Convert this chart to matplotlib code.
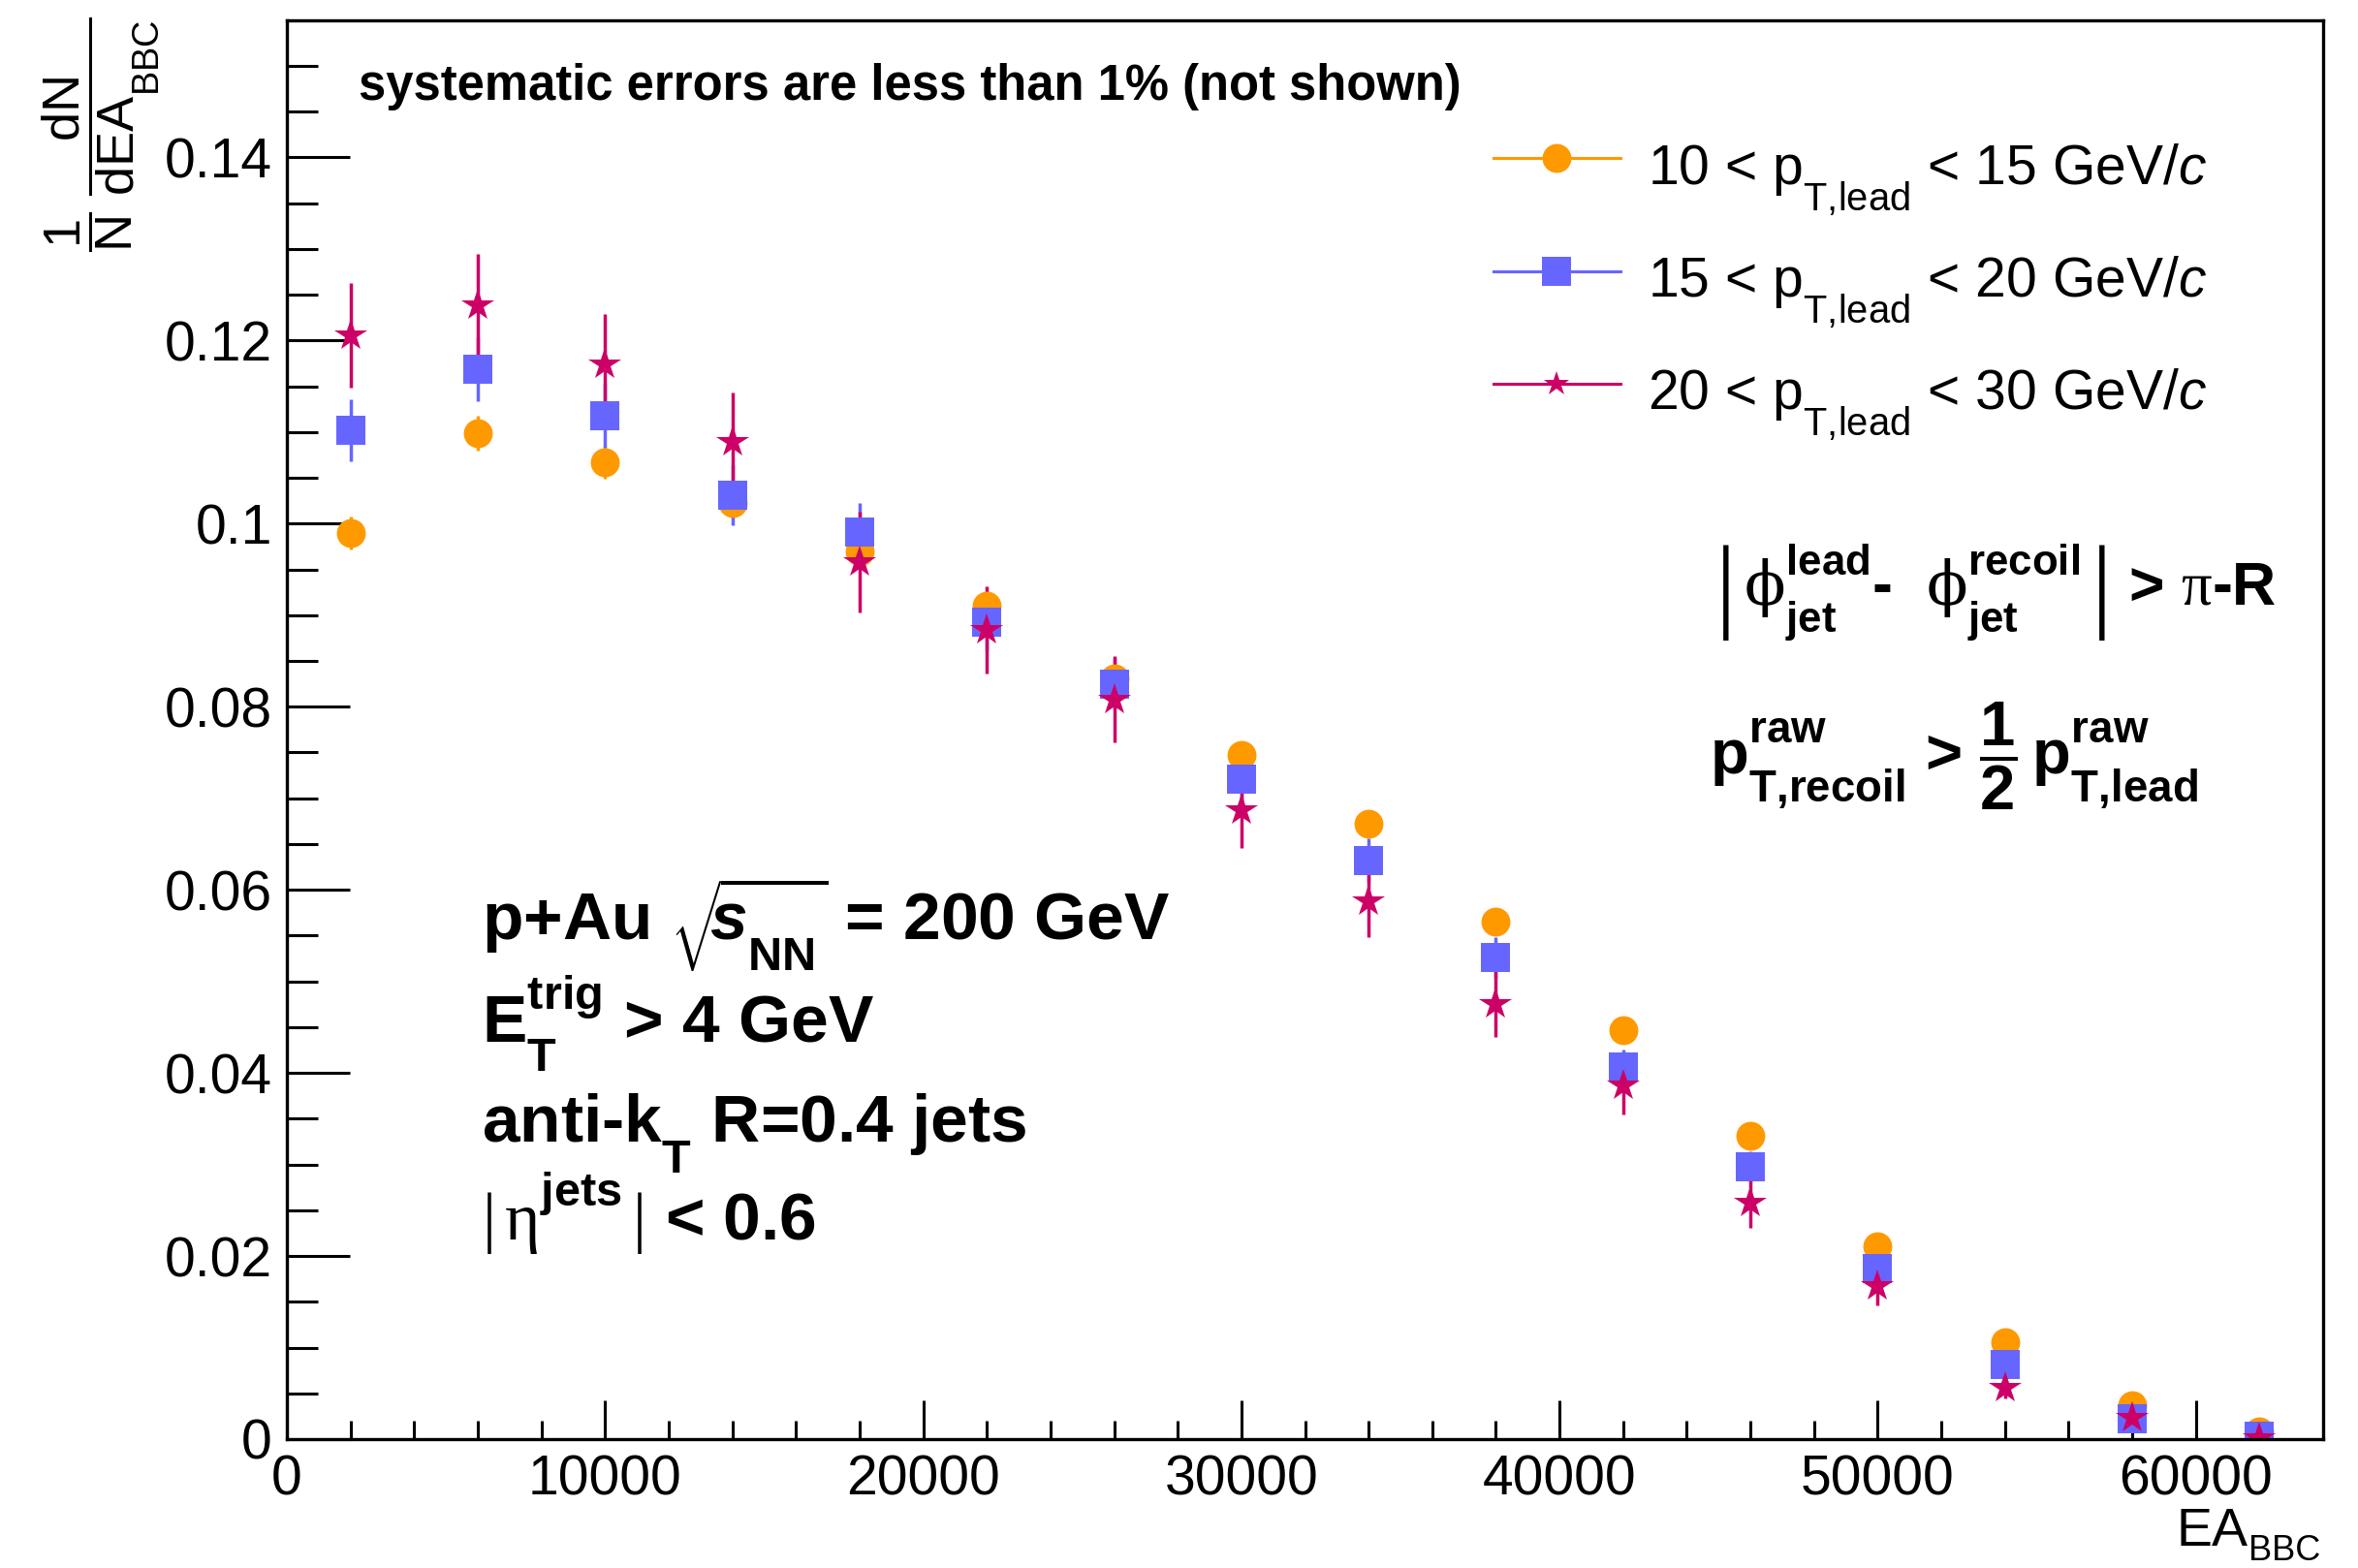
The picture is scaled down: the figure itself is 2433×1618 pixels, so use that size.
import matplotlib
matplotlib.use("Agg")
import matplotlib.pyplot as plt
import matplotlib._mathtext as mathtext_internals
from matplotlib.lines import Line2D
from matplotlib.ticker import MultipleLocator, FuncFormatter

# fonts: Helvetica-like, math in the same font (bold text -> bold math)
plt.rcParams['font.family'] = ['Liberation Sans', 'DejaVu Sans']
plt.rcParams['mathtext.fontset'] = 'custom'
plt.rcParams['mathtext.rm'] = 'Liberation Serif'
plt.rcParams['mathtext.it'] = 'Liberation Sans:italic'
plt.rcParams['mathtext.bf'] = 'Liberation Sans:bold'
plt.rcParams['mathtext.bfit'] = 'Liberation Sans:italic:bold'
plt.rcParams['mathtext.sf'] = 'DejaVu Serif'
plt.rcParams['mathtext.default'] = 'regular'

# ROOT puts sub/superscripts further from the baseline than mathtext does
mathtext_internals.FontConstantsBase.sup1 = 0.95
mathtext_internals.FontConstantsBase.sub1 = 0.9
mathtext_internals.FontConstantsBase.sub2 = 0.85

# data
ea = [2000, 6000, 10000, 14000, 18000, 22000, 26000, 30000,
      34000, 38000, 42000, 46000, 50000, 54000, 58000, 62000]

y_10_15 = [0.0990, 0.1099, 0.1067, 0.1023, 0.0970, 0.0910, 0.0831, 0.0747,
           0.0672, 0.0565, 0.0447, 0.0331, 0.0211, 0.0106, 0.0037, 0.0008]
err_10_15 = [0.0018, 0.0019, 0.0018, 0.0017, 0.0016, 0.0015, 0.0014, 0.0013,
             0.0012, 0.0011, 0.0010, 0.0009, 0.0007, 0.0005, 0.0003, 0.0002]

y_15_20 = [0.1102, 0.1169, 0.1118, 0.1031, 0.0991, 0.0892, 0.0825, 0.0721,
           0.0632, 0.0526, 0.0406, 0.0297, 0.0186, 0.0081, 0.0022, 0.0003]
err_15_20 = [0.0034, 0.0035, 0.0035, 0.0033, 0.0032, 0.0030, 0.0028, 0.0026,
             0.0024, 0.0022, 0.0020, 0.0017, 0.0014, 0.0009, 0.0005, 0.0002]

y_20_30 = [0.1206, 0.1238, 0.1174, 0.1089, 0.0958, 0.0884, 0.0808, 0.0687,
           0.0588, 0.0475, 0.0386, 0.0258, 0.0167, 0.0056, 0.0023, 0.0001]
err_20_30 = [0.0057, 0.0057, 0.0055, 0.0054, 0.0055, 0.0048, 0.0047, 0.0041,
             0.0040, 0.0036, 0.0031, 0.0027, 0.0021, 0.0012, 0.0008, 0.0004]

labels = [r'10 < $p_{T{,}lead}$ < 15 GeV/$\mathit{c}$',
          r'15 < $p_{T{,}lead}$ < 20 GeV/$\mathit{c}$',
          r'20 < $p_{T{,}lead}$ < 30 GeV/$\mathit{c}$']
colors = ['#FF9900', '#6666FF', '#CC0066']
markers = ['o', 's', '*']
msizes = [21.5, 21, 25]
leg_msizes = [21.5, 21, 19]

W, H = 2433, 1618


def fx(px):
    return px / W


def fy(py):
    return 1 - py / H


fig = plt.figure(figsize=(W / 100, H / 100), dpi=100)
ax = fig.add_axes([fx(296), fy(1485), (2397 - 296) / W, (1485 - 20.7) / H])

series = [(y_10_15, err_10_15), (y_15_20, err_15_20), (y_20_30, err_20_30)]
handles = []
for (yv, ye), c, m, ms, lms in zip(series, colors, markers, msizes, leg_msizes):
    ax.errorbar(ea, yv, yerr=ye, fmt=m, color=c, ms=ms, mew=0,
                elinewidth=2.5, capsize=0)
    handles.append(Line2D([], [], color=c, marker=m, ms=lms, mew=0, lw=2.2))

ax.set_xlim(0, 64000)
ax.set_ylim(0, 0.155)

ax.xaxis.set_major_locator(MultipleLocator(10000))
ax.xaxis.set_minor_locator(MultipleLocator(2000))
ax.yaxis.set_major_locator(MultipleLocator(0.02))
ax.yaxis.set_minor_locator(MultipleLocator(0.005))
fmt = FuncFormatter(lambda v, pos: '{:g}'.format(round(v, 6)))
ax.xaxis.set_major_formatter(fmt)
ax.yaxis.set_major_formatter(fmt)

ax.tick_params(axis='x', which='major', direction='in', length=29, width=2.2,
               labelsize=41, pad=11)
ax.tick_params(axis='x', which='minor', direction='in', length=14, width=2.2)
ax.tick_params(axis='y', which='major', direction='in', length=47, width=2.2,
               labelsize=41, pad=11)
ax.tick_params(axis='y', which='minor', direction='in', length=23, width=2.2)
for sp in ax.spines.values():
    sp.set_linewidth(2.4)

# axis titles (ROOT style: at the ends of the axes)
fig.text(fx(2320), fy(1595), 'EA', ha='right', va='baseline', fontsize=40)
fig.text(fx(2394), fy(1610), 'BBC', ha='right', va='baseline', fontsize=26)
fig.text(fx(104), fy(18), r'$\dfrac{1}{N}\;\dfrac{dN}{dEA_{BBC}}$', rotation=90,
         ha='center', va='top', fontsize=39)

# legend
ax.legend(handles, labels, loc='upper left', bbox_to_anchor=(fx(1541), fy(137)),
          bbox_transform=fig.transFigure, frameon=False, fontsize=41,
          handlelength=2.3, handletextpad=0.5, handleheight=1.45,
          labelspacing=0.52, borderpad=0, borderaxespad=0)

# annotations
fig.text(fx(370), fy(103), 'systematic errors are less than 1% (not shown)',
         fontsize=36.5, fontweight='bold', va='baseline')

left_lines = [r'p+Au $\sqrt{\!\!\mathbfit{s}_{NN}}$ = 200 GeV',
              r'$E_{T}^{trig}$ > 4 GeV',
              r'anti-$k_{T}$ R=0.4 jets',
              r'$\mathrm{|}\,\mathrm{η}^{jets}\,\mathrm{|}$ < 0.6']
for txt, py in zip(left_lines, [971, 1075, 1179, 1280]):
    fig.text(fx(497), fy(py), txt, fontsize=50, fontweight='bold', va='baseline')

# thin serif bars around bold content, like ROOT's #left| ... #right|
fig.text(fx(1769), fy(625),
         r'$\mathrm{\left|\,\mathdefault{\mathsf{ϕ}^{lead}_{jet}'
         '\u2010'
         r'\ \ \mathsf{ϕ}^{recoil}_{jet}}\,\right|}$ > $\mathrm{π}$-R',
         fontsize=45, fontweight='bold', va='baseline')
fig.text(fx(1764), fy(799),
         r'$p^{raw}_{T{,}recoil}$ > $\dfrac{1}{2}\,p^{raw}_{T{,}lead}$',
         fontsize=47, fontweight='bold', va='baseline')

fig.savefig('out.png', dpi=100)
